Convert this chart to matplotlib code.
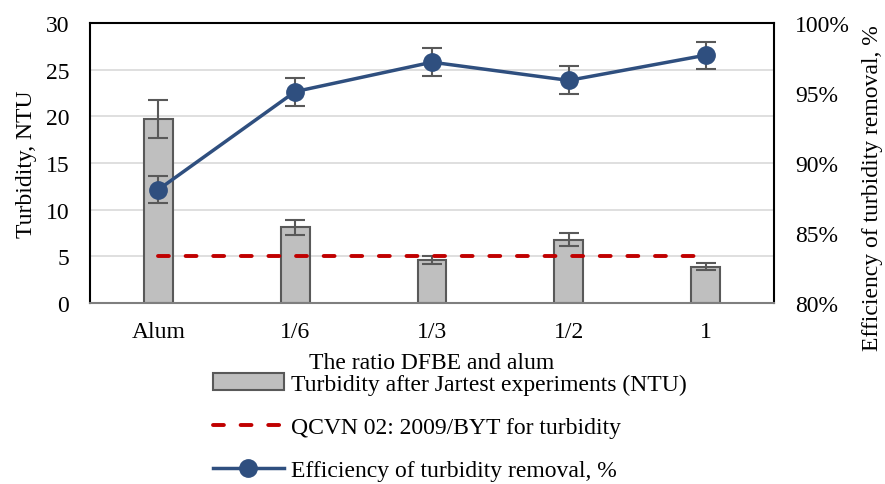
import numpy as np
import matplotlib.pyplot as plt
from matplotlib.ticker import FuncFormatter

plt.rcParams['font.family'] = ['Liberation Serif', 'DejaVu Serif']

categories = ['Alum', '1/6', '1/3', '1/2', '1']
turbidity = [19.7, 8.1, 4.6, 6.8, 3.9]
turbidity_err = [2.0, 0.8, 0.4, 0.7, 0.35]
standard = [5, 5, 5, 5, 5]
efficiency = [88.1, 95.1, 97.2, 95.9, 97.7]
efficiency_err = [0.95, 1.0, 1.0, 1.0, 0.95]


def main():
    fig = plt.figure(figsize=(8.85, 4.85), dpi=100)
    ax = fig.add_axes([90 / 885, 1 - 304 / 485, 684 / 885, 280 / 485])
    x = np.arange(len(categories))
    fs = 17

    ax.set_axisbelow(True)
    ax.yaxis.grid(True, color='#d9d9d9', lw=1.2)
    bars = ax.bar(x, turbidity, width=0.21, color='#bfbfbf', edgecolor='#595959', lw=1.5,
                  yerr=turbidity_err, error_kw=dict(ecolor='#595959', elinewidth=1.5, capsize=7, capthick=1.5),
                  label='Turbidity after Jartest experiments (NTU)', zorder=2)
    std_line, = ax.plot(x, standard, color='#c00000', ls=(0, (2.8, 4.3)), lw=2.8,
                        dash_capstyle='round',
                        label='QCVN 02: 2009/BYT for turbidity', zorder=3)
    ax.set_xlim(-0.5, 4.5)
    ax.set_ylim(0, 30)
    ax.set_yticks(range(0, 31, 5))
    ax.set_xticks(x)
    ax.set_xticklabels(categories)
    ax.tick_params(axis='x', length=0, labelsize=fs, pad=13)
    ax.tick_params(axis='y', length=0, labelsize=fs, pad=15)
    ax.set_ylabel('Turbidity, NTU', fontsize=fs, labelpad=6)
    ax.set_xlabel('The ratio DFBE and alum', fontsize=fs, labelpad=7)
    for s in ['left', 'top', 'right']:
        ax.spines[s].set_color('black')
        ax.spines[s].set_linewidth(1.5)
    ax.spines['bottom'].set_color('#7f7f7f')
    ax.spines['bottom'].set_linewidth(1.5)

    ax2 = ax.twinx()
    ax2.errorbar(x, efficiency, yerr=efficiency_err, fmt='none', ecolor='#595959',
                 elinewidth=1.5, capsize=7, capthick=1.5, zorder=4)
    eff_line, = ax2.plot(x, efficiency, color='#2f4f7f', lw=2.5, marker='o', ms=12.5,
                         label='Efficiency of turbidity removal, %', zorder=5)
    ax2.set_ylim(80, 100)
    ax2.set_yticks(range(80, 101, 5))
    ax2.yaxis.set_major_formatter(FuncFormatter(lambda v, p: '%d%%' % v))
    ax2.tick_params(length=0, labelsize=fs, pad=15)
    ax2.set_ylabel('Efficiency of turbidity removal, %', fontsize=fs,
                   va='center', ha='center', rotation_mode='anchor')
    ax2.yaxis.set_label_coords((873 - 90) / 684, (304 - 188) / 280)
    for s in ax2.spines.values():
        s.set_visible(False)

    fig.legend(handles=[bars, std_line, eff_line], loc='upper left',
               bbox_to_anchor=(213 / 885, 1 - 374 / 485), frameon=False, fontsize=fs,
               handlelength=3.0, handletextpad=0.3, labelspacing=0.92, borderaxespad=0,
               borderpad=0)

    plt.savefig('out.png', dpi=100)


if __name__ == '__main__':
    main()
